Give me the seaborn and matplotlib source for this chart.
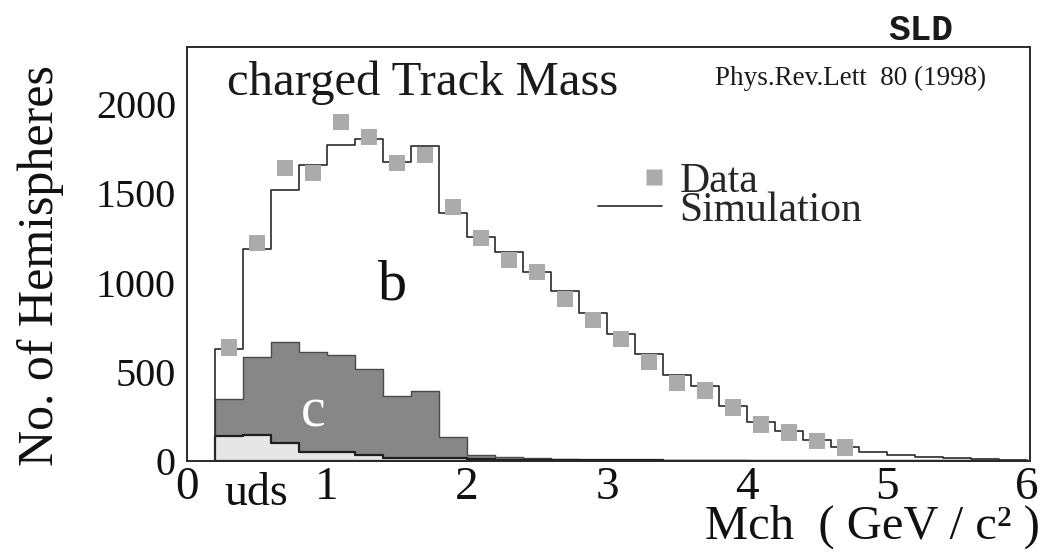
import numpy as np
import pandas as pd
import matplotlib
matplotlib.use("Agg")
import matplotlib.pyplot as plt
from matplotlib.lines import Line2D
from matplotlib.legend_handler import HandlerLine2DCompound
from matplotlib.ticker import MultipleLocator
import seaborn as sns

# ---- charged-track mass, 0.2 GeV bins from 0.2 to 6.0 GeV/c^2 ----
bin_edges = [round(0.2 + 0.2 * i, 2) for i in range(30)]
bin_centers = [round(e + 0.1, 2) for e in bin_edges[:-1]]

# simulation: total (b + c + uds), charm part, uds part
sim_total = [630, 1190, 1520, 1660, 1770, 1805, 1675, 1765, 1390, 1258,
             1170, 1060, 955, 830, 712, 600, 482, 420, 310, 220,
             170, 118, 80, 50, 32, 20, 14, 9, 6]
sim_charm = [205, 437, 567, 562, 545, 484, 347, 375, 118, 25,
             14, 9, 6, 4, 3, 2, 2, 1, 1, 0,
             0, 0, 0, 0, 0, 0, 0, 0, 0]
sim_uds = [140, 146, 98, 50, 50, 34, 18, 17, 17, 10,
           8, 6, 5, 4, 3, 3, 2, 2, 2, 1,
           1, 1, 1, 1, 0, 0, 0, 0, 0]

# measured hemispheres
data_mass = [0.3, 0.5, 0.7, 0.9, 1.1, 1.3, 1.5, 1.7, 1.9, 2.1, 2.3, 2.5,
             2.7, 2.9, 3.1, 3.3, 3.5, 3.7, 3.9, 4.1, 4.3, 4.5, 4.7]
data_counts = [635, 1222, 1642, 1614, 1900, 1816, 1670, 1715, 1424, 1250,
               1127, 1059, 908, 790, 684, 555, 437, 395, 300, 205,
               160, 112, 75]

x_ticks = [0, 1, 2, 3, 4, 5, 6]
y_ticks = [0, 500, 1000, 1500, 2000]

sim = pd.DataFrame({
    "mass": bin_centers,
    "total": sim_total,
    "charm_uds": np.add(sim_charm, sim_uds),
    "uds": sim_uds,
})
data = pd.DataFrame({"mass": data_mass, "counts": data_counts})

sns.set_theme(style="white")
plt.rcParams["font.family"] = ["Liberation Serif", "DejaVu Serif"]

INK = "#2a2a2a"
fig = plt.figure(figsize=(10.45, 5.54), dpi=100)
ax = fig.add_axes([0.179, 0.168, 0.8066, 0.747])

# c + uds stack (dark grey), then uds on top of it (light grey)
sns.histplot(sim, x="mass", weights="charm_uds", bins=bin_edges, element="step",
             fill=True, color="#878787", edgecolor="#4a4a4a", linewidth=1.0,
             alpha=1, ax=ax)
sns.histplot(sim, x="mass", weights="uds", bins=bin_edges, element="step",
             fill=True, color="#e6e6e6", edgecolor="#1e1e1e", linewidth=1.6,
             alpha=1, ax=ax)
# total simulation outline
sns.histplot(sim, x="mass", weights="total", bins=bin_edges, element="step",
             fill=True, color=INK, facecolor=(0, 0, 0, 0), edgecolor=INK,
             linewidth=1.2, ax=ax)
# data points
sns.scatterplot(data, x="mass", y="counts", marker="s", s=140,
                color="#ababab", edgecolor="none", ax=ax, zorder=5)

ax.set_xlim(0, 6.02)
ax.set_ylim(0, 2320)
ax.set_xticks(x_ticks)
ax.set_yticks(y_ticks)
ax.xaxis.set_minor_locator(MultipleLocator(0.2))
ax.yaxis.set_minor_locator(MultipleLocator(50))
ax.tick_params(axis="x", which="major", direction="in", length=10, width=1.1,
               color=INK, labelsize=34, pad=4, labelcolor="#111")
ax.tick_params(axis="x", which="minor", direction="in", length=5, width=0.9,
               color=INK)
ax.tick_params(axis="y", which="major", direction="in", length=7, width=1.1,
               color=INK, labelsize=29, pad=8, labelcolor="#111")
ax.tick_params(axis="y", which="minor", direction="in", length=3.5, width=0.7,
               color=INK)
for side in ax.spines.values():
    side.set_color(INK)
    side.set_linewidth(1.4)

ax.set_xlabel("Mch  ( GeV / c\u00b2 )", fontsize=35, loc="right",
              va="center", color="#111")
ax.xaxis.set_label_coords(1.012, -0.16)
ax.set_ylabel("No. of Hemispheres", fontsize=36, va="center", color="#111")
ax.yaxis.set_label_coords(-0.174, 0.473)

ax.text(0.047, 0.884, "charged Track Mass", transform=ax.transAxes,
        fontsize=35, ha="left", va="baseline", color="#1a1a1a")
ax.text(0.626, 0.908, "Phys.Rev.Lett  80 (1998)", transform=ax.transAxes,
        fontsize=19.5, ha="left", va="baseline", color="#1a1a1a")
ax.text(0.8316, 1.018, "SLD", transform=ax.transAxes, fontsize=26,
        family="Liberation Mono", weight="bold", ha="left", va="baseline",
        color="#1a1a1a", clip_on=False)
ax.text(0.2444, 0.389, "b", transform=ax.transAxes, fontsize=42,
        ha="center", va="baseline", color="#111")
ax.text(0.1495, 0.083, "c", transform=ax.transAxes, fontsize=40,
        ha="center", va="baseline", color="white")
ax.text(0.082, -0.106, "uds", transform=ax.transAxes, fontsize=33,
        ha="center", va="baseline", color="#111", clip_on=False)


class _MarkerAtRight(HandlerLine2DCompound):
    def get_xdata(self, legend, xdescent, ydescent, width, height, fontsize):
        xdata, _ = super().get_xdata(legend, xdescent, ydescent, width,
                                     height, fontsize)
        return xdata, np.array([-xdescent + 0.88 * width])


handles = [
    Line2D([], [], ls="none", marker="s", markersize=11.8,
           markerfacecolor="#ababab", markeredgecolor="none"),
    Line2D([], [], color=INK, lw=1.2),
]
ax.legend(handles, ["Data", "Simulation"], loc="upper left",
          bbox_to_anchor=(0.4875, 0.721), frameon=False, fontsize=30,
          borderpad=0, borderaxespad=0, handlelength=1.53, handletextpad=0.43,
          labelspacing=-0.23,
          handler_map={handles[0]: _MarkerAtRight(numpoints=1)})

fig.savefig("out.png", dpi=100)
